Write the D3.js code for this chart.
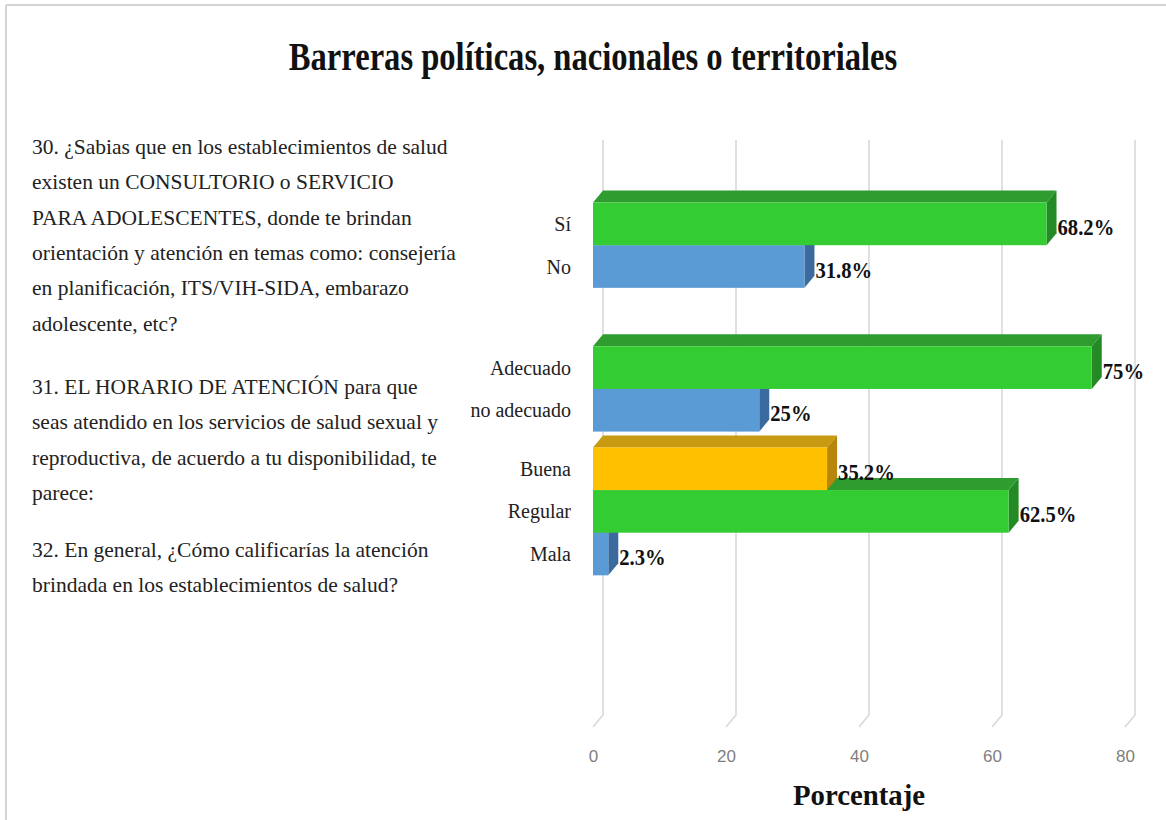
<!DOCTYPE html>
<html><head><meta charset="utf-8">
<script src="https://cdn.jsdelivr.net/npm/d3@7"></script>
<style>html,body{margin:0;padding:0;background:#fff;}</style>
</head><body>
<svg id="chart" width="1166" height="820"></svg>
<script>
// ---- data ----
const questions = ["P30", "P31", "P32", "P33"];
const slots = ["oro", "verde", "azul"];
const barLabels = ["Sí", "No", "Adecuado", "no adecuado", "Buena", "Regular", "Mala"];
const barValues = [68.2, 31.8, 75, 25, 35.2, 62.5, 2.3];
const barQuestion = ["P30", "P30", "P31", "P31", "P32", "P32", "P32"];
const barSlot = ["verde", "azul", "verde", "azul", "oro", "verde", "azul"];
const tickValues = [0, 20, 40, 60, 80];
const titleText = "Barreras políticas, nacionales o territoriales";
const axisTitle = "Porcentaje";
const questionText = [
  ["30. ¿Sabias que en los establecimientos de salud",
   "existen un CONSULTORIO o SERVICIO",
   "PARA ADOLESCENTES, donde te brindan",
   "orientación y atención en temas como: consejería",
   "en planificación, ITS/VIH-SIDA, embarazo",
   "adolescente, etc?"],
  ["31. EL HORARIO DE ATENCIÓN para que",
   "seas atendido en los servicios de salud sexual y",
   "reproductiva, de acuerdo a tu disponibilidad, te",
   "parece:"],
  ["32. En general, ¿Cómo calificarías la atención",
   "brindada en los establecimientos de salud?"]
];

// ---- styles ----
const colors = {
  verde: {front: "#33CC33", top: "#2E9C2E", side: "#248A26"},
  azul:  {front: "#5B9BD5", top: "#4A80B8", side: "#3A6A9E"},
  oro:   {front: "#FFC000", top: "#C79A12", side: "#B8860B"}
};
const dx = 10, dy = 12;
const serif = "'Liberation Serif', 'Times New Roman', serif";

const svg = d3.select("#chart");

// frame lines
svg.append("line").attr("x1", 6).attr("x2", 1166).attr("y1", 5).attr("y2", 5)
  .attr("stroke", "#d4d4d4").attr("stroke-width", 2);
svg.append("line").attr("x1", 6).attr("x2", 6).attr("y1", 5).attr("y2", 820)
  .attr("stroke", "#d4d4d4").attr("stroke-width", 2);

// scales
const x = d3.scaleLinear().domain([0, 80]).range([593, 1125]);
const y = d3.scaleBand().domain(questions).range([152, 727]).paddingInner(0.11).paddingOuter(0.055);
const ys = d3.scaleBand().domain(slots).range([0, y.bandwidth()]);

// gridlines (back wall + floor diagonal)
const grid = svg.append("g");
tickValues.forEach(v => {
  grid.append("path")
    .attr("d", `M${x(v) + dx},140 L${x(v) + dx},${727 - dy} L${x(v)},727`)
    .attr("fill", "none").attr("stroke", "#d9d9d9").attr("stroke-width", 1.6);
});

// axis tick labels via d3 axis
const axisG = svg.append("g").attr("transform", "translate(0,750)")
  .call(d3.axisBottom(x).tickValues(tickValues).tickSize(0).tickPadding(0).tickFormat(d3.format("d")));
axisG.select(".domain").remove();
axisG.selectAll("text")
  .attr("font-family", "'Liberation Sans Narrow', 'Liberation Sans', sans-serif")
  .attr("font-size", 17).attr("fill", "#7f7f7f").attr("dy", "0.71em");

// bars: draw bottom-most first so upper bars overlap correctly
const bars = barLabels.map((l, i) => ({
  label: l, value: barValues[i], q: barQuestion[i], slot: barSlot[i],
  y0: y(barQuestion[i]) + ys(barSlot[i])
}));
bars.sort((a, b) => b.y0 - a.y0);

const barG = svg.append("g");
bars.forEach(d => {
  const c = colors[d.slot];
  const x0 = x(0), x1 = x(d.value), y0 = d.y0, y1 = d.y0 + ys.bandwidth();
  const g = barG.append("g");
  g.append("polygon")
    .attr("points", `${x0},${y0} ${x0 + dx},${y0 - dy} ${x1 + dx},${y0 - dy} ${x1},${y0}`)
    .attr("fill", c.top);
  g.append("polygon")
    .attr("points", `${x1},${y0} ${x1 + dx},${y0 - dy} ${x1 + dx},${y1 - dy} ${x1},${y1}`)
    .attr("fill", c.side);
  g.append("rect").attr("x", x0).attr("y", y0).attr("width", x1 - x0).attr("height", y1 - y0)
    .attr("fill", c.front);
});

// value labels
const fmt = v => (Number.isInteger(v) ? v : v.toFixed(1)) + "%";
bars.forEach(d => {
  const cy = d.y0 + ys.bandwidth() / 2 + 3;
  svg.append("text")
    .attr("transform", `translate(${x(d.value) + dx + 1},${cy}) scale(0.86,1)`)
    .attr("font-family", serif).attr("font-weight", "bold").attr("font-size", 24)
    .attr("dominant-baseline", "central").attr("fill", "#111")
    .text(fmt(d.value));
});

// category labels
bars.forEach(d => {
  const cy = d.y0 + ys.bandwidth() / 2;
  svg.append("text")
    .attr("x", 571).attr("y", cy)
    .attr("text-anchor", "end").attr("dominant-baseline", "central")
    .attr("font-family", serif).attr("font-size", 20).attr("fill", "#222")
    .text(d.label);
});

// title
svg.append("text")
  .attr("transform", "translate(593,70) scale(0.815,1)")
  .attr("text-anchor", "middle")
  .attr("font-family", serif).attr("font-weight", "bold").attr("font-size", 40).attr("fill", "#111")
  .text(titleText);

// axis title
svg.append("text")
  .attr("transform", `translate(${x(40)},805) scale(0.96,1)`)
  .attr("text-anchor", "middle")
  .attr("font-family", serif).attr("font-weight", "bold").attr("font-size", 30).attr("fill", "#111")
  .text(axisTitle);

// question text
const paraStart = [154, 394, 557];
questionText.forEach((lines, p) => {
  const t = svg.append("text").attr("font-family", serif).attr("font-size", 21.5).attr("fill", "#222");
  lines.forEach((ln, i) => {
    t.append("tspan").attr("x", 32).attr("y", paraStart[p] + i * 35.3).text(ln);
  });
});
</script>
</body></html>
